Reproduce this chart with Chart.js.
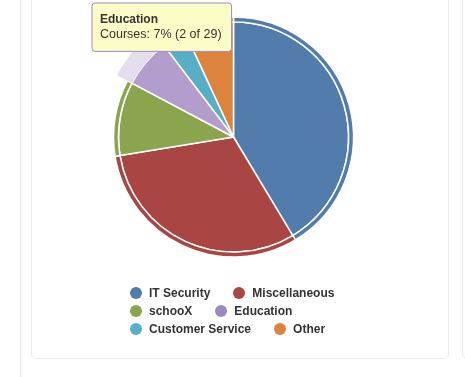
<!DOCTYPE html>
<html>
<head>
<meta charset="utf-8">
<script src="https://cdn.jsdelivr.net/npm/chart.js@4/dist/chart.umd.min.js"></script>
<style>
  body { margin: 0; background: #fff; width: 465px; height: 377px; overflow: hidden; position: relative; font-family: "Liberation Sans", Arial, sans-serif; }
  .rule { position: absolute; left: 20px; top: 0; width: 1px; height: 377px; background: #e8e8ee; }
  .card { position: absolute; top: -10px; height: 369px; border: 1px solid #ebebeb; border-radius: 5px; box-sizing: border-box; }
  #wrap { position: absolute; left: 0; top: 0; width: 465px; height: 377px; }
  #legend { position: absolute; left: 130px; top: 284px; font-size: 12px; font-weight: bold; color: #333; }
  #legend .row { height: 18px; line-height: 18px; white-space: nowrap; }
  #legend .item { display: inline-block; margin-right: 23px; }
  #legend .dot { display: inline-block; width: 12px; height: 12px; border-radius: 50%; margin-right: 7px; vertical-align: -2px; }
</style>
</head>
<body>
<div class="rule"></div>
<div class="card" style="left:31px;width:418px;"></div>
<div class="card" style="left:462px;width:60px;"></div>
<div id="wrap"><canvas id="pie"></canvas></div>
<div id="legend"></div>
<script>
const categories = ["IT Security", "Miscellaneous", "schooX", "Education", "Customer Service", "Other"];
const courses = [12, 9, 3, 2, 1, 2];
const seriesName = "Courses";
const hovered = 3; // Education

const colors = ["#527cab", "#a94644", "#8ba54f", "#9e88c0", "#56aec7", "#dc843e"];
const hoverColors = ["#5e89b8", "#b65251", "#98b25c", "#b39dcd", "#63bbd4", "#e9914b"];
const haloColor = "rgba(179,157,205,0.35)";

Chart.defaults.font.family = '"Liberation Sans", Arial, sans-serif';

Chart.Tooltip.positioners.overPie = function (items) {
    if (!items.length) return false;
    const el = items[0].element;
    return { x: el.x - 138.5, y: el.y - 134, xAlign: "left", yAlign: "top" };
};

// outer halo only for the hovered slice, thin outer ring, then the pie body
const halo = categories.map((c, i) => i === hovered ? haloColor : "rgba(0,0,0,0)");
const ring = colors.map((c, i) => i === hovered ? haloColor : c);
const ringBorder = categories.map((c, i) => i === hovered ? 0 : 1.5);

const chart = new Chart(document.getElementById("pie"), {
    type: "pie",
    data: {
        labels: categories,
        datasets: [
            { label: "halo", data: courses, weight: 12, backgroundColor: halo, hoverBackgroundColor: halo, borderWidth: 0, hoverBorderWidth: 0 },
            { label: "ring", data: courses, weight: 5, backgroundColor: ring, hoverBackgroundColor: ring,
              borderColor: "#fff", hoverBorderColor: "#fff", borderWidth: ringBorder, hoverBorderWidth: ringBorder },
            { label: seriesName, data: courses, weight: 115, backgroundColor: colors, hoverBackgroundColor: hoverColors,
              borderColor: "#fff", hoverBorderColor: "#fff", borderWidth: 1.5, hoverBorderWidth: 1.5 }
        ]
    },
    options: {
        responsive: true,
        maintainAspectRatio: false,
        animation: false,
        radius: 132,
        hoverOffset: 0,
        layout: { padding: { left: 2, right: 0, top: 0, bottom: 103 } },
        plugins: {
            legend: { display: false },
            tooltip: {
                position: "overPie",
                filter: (item) => item.datasetIndex === 2,
                backgroundColor: "#fcfcc6",
                borderColor: "#9d8cc0",
                borderWidth: 1,
                cornerRadius: 3,
                caretSize: 0,
                caretPadding: 0,
                displayColors: false,
                padding: { top: 9, right: 10, bottom: 9, left: 8 },
                titleColor: "#333",
                bodyColor: "#333",
                titleFont: { size: 12, weight: "bold" },
                bodyFont: { size: 12.5 },
                titleMarginBottom: 1,
                callbacks: {
                    title: (items) => items[0].label,
                    label: (item) => {
                        const total = item.dataset.data.reduce((a, b) => a + b, 0);
                        const pct = Math.round(item.raw / total * 100);
                        return seriesName + ": " + pct + "% (" + item.raw + " of " + total + ")";
                    }
                }
            }
        }
    }
});

chart.setActiveElements([{ datasetIndex: 2, index: hovered }]);
chart.tooltip.setActiveElements([{ datasetIndex: 2, index: hovered }], { x: 150, y: 60 });
chart.update();

// html legend, two entries per row
const legend = document.getElementById("legend");
for (let i = 0; i < categories.length; i += 2) {
    const row = document.createElement("div");
    row.className = "row";
    for (let j = i; j < Math.min(i + 2, categories.length); j++) {
        const item = document.createElement("span");
        item.className = "item";
        item.innerHTML = '<span class="dot" style="background:' + colors[j] + '"></span>' + categories[j];
        row.appendChild(item);
    }
    legend.appendChild(row);
}
</script>
</body>
</html>
